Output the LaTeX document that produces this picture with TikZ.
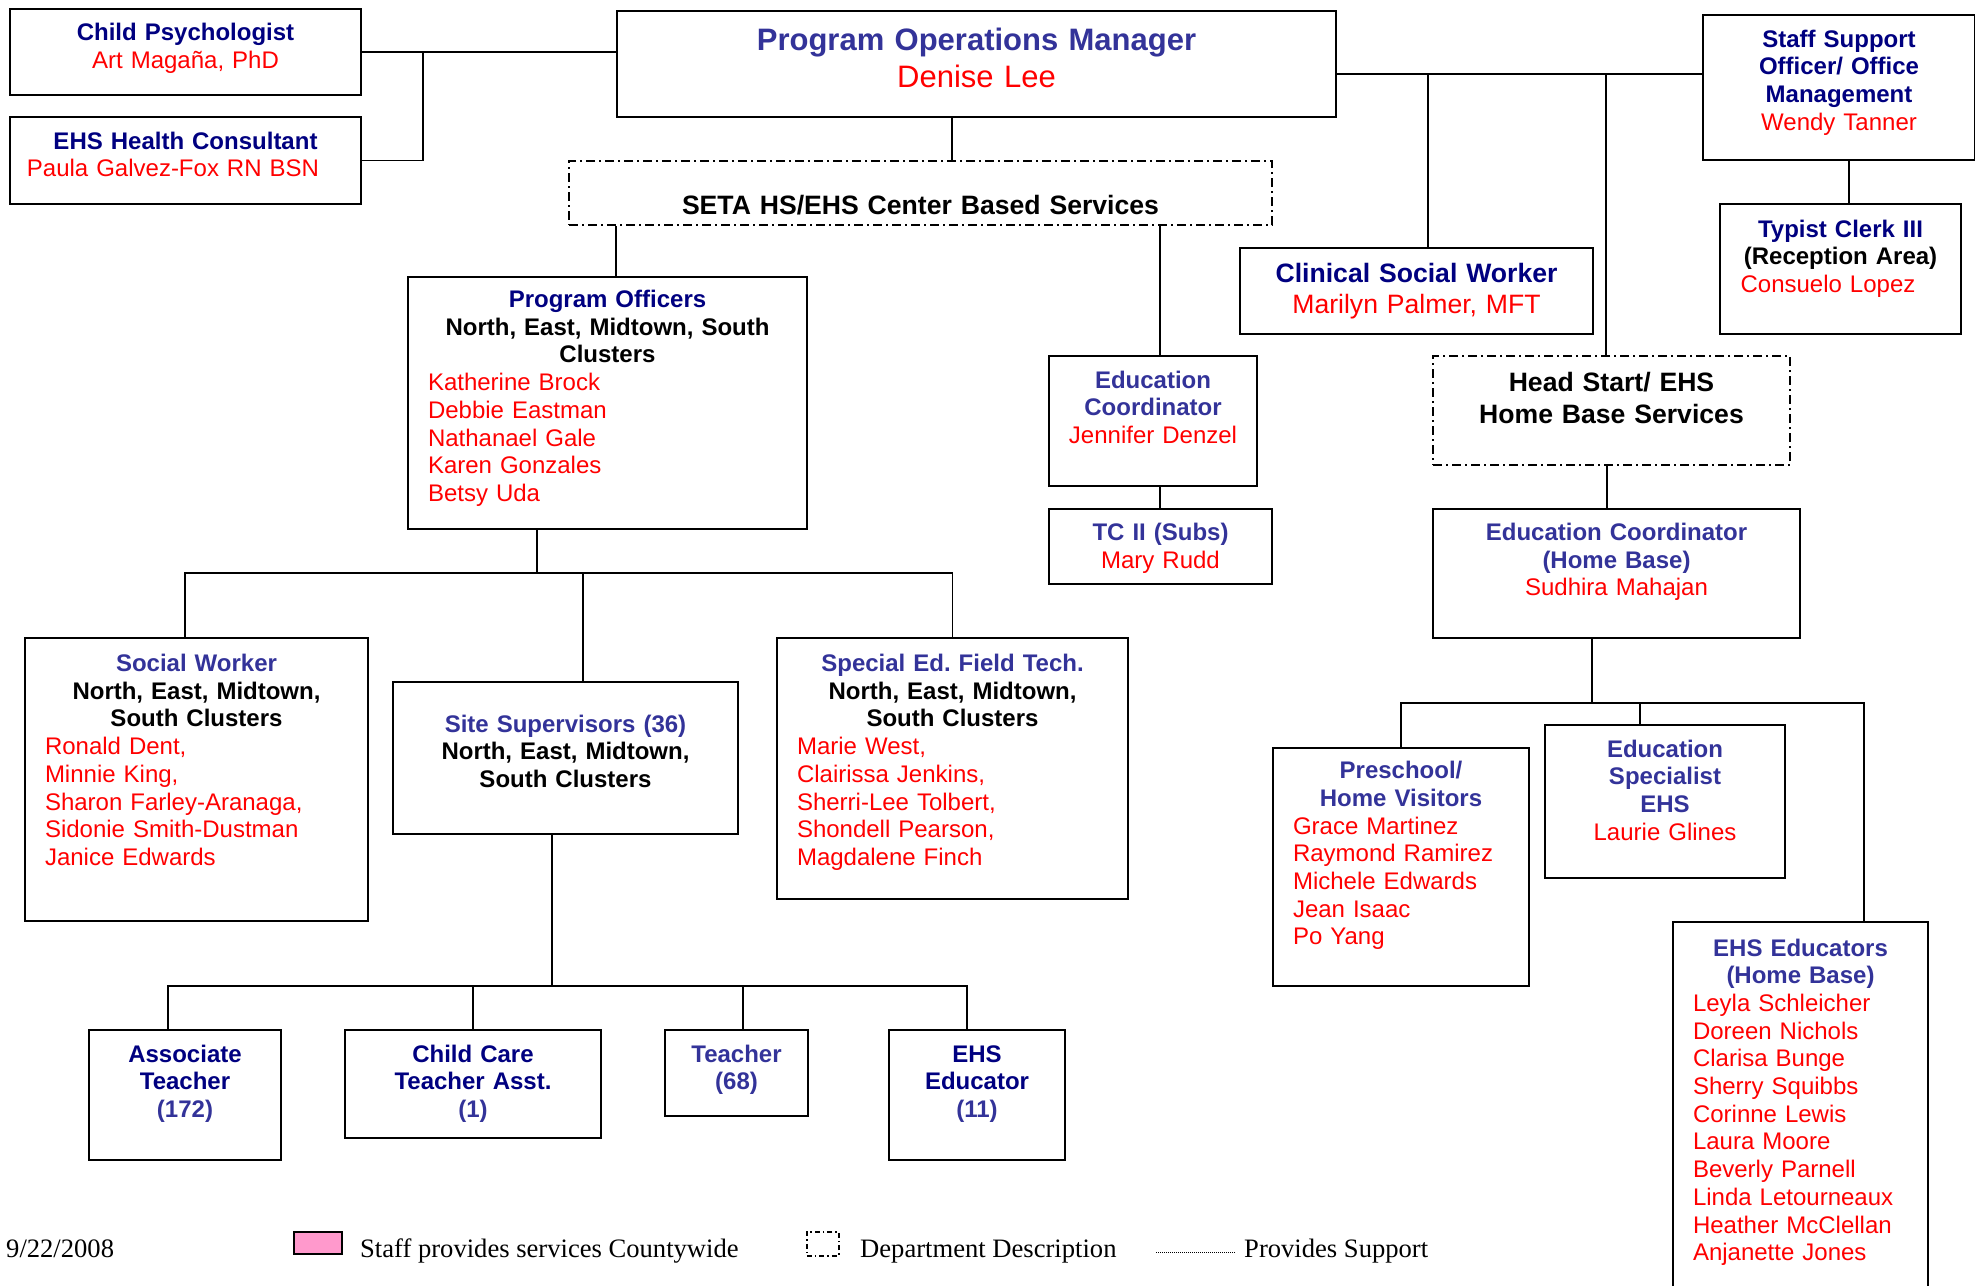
\documentclass[tikz,border=0pt]{standalone}
\usepackage{fontspec}
\setmainfont{Liberation Sans}
\newfontfamily\legendfont{Liberation Serif}
\usepackage{tikz}
\frenchspacing
\definecolor{dnavy}{HTML}{000080}
\definecolor{dblue}{HTML}{333399}
\definecolor{dred}{HTML}{FF0000}
\definecolor{cpink}{HTML}{FF99CC}
\newcommand\ttl[1]{{\bfseries\color{dnavy}#1}}
\newcommand\ttb[1]{{\bfseries\color{dblue}#1}}
\newcommand\clu[1]{{\bfseries #1}}
\newcommand\nm[1]{{\color{dred}#1}}
\newcommand\lnm[1]{\makebox[\linewidth][l]{\hspace*{20pt}\color{dred}#1}}
\tikzstyle{box}=[draw,line width=2pt,anchor=north west,inner sep=0pt,align=center,font=\fontsize{24}{27.7}\selectfont]
\tikzstyle{dept}=[box,dash pattern=on 9pt off 4pt on 2pt off 4pt]
\tikzstyle{conn}=[line width=1.6pt]
\tikzstyle{leg}=[anchor=base west,inner sep=0pt,font=\legendfont\fontsize{26.6}{30}\selectfont]

\begin{document}
\begin{tikzpicture}[x=1pt,y=-1pt]
	\useasboundingbox (0,0) rectangle (1975,1285);
	\node[box,text width=351pt,text height=31.5pt,text depth=54.5pt] (cp) at (9,8) {\ttl{Child Psychologist}\\\nm{Art Magaña, PhD}};
	\node[box,text width=351pt,text height=32pt,text depth=55pt] (hc) at (9,116) {\ttl{EHS Health Consultant}\\\nm{Paula Galvez-Fox RN BSN}\hspace*{25pt}\null};
	\node[box,text width=719pt,text height=39.5pt,text depth=66.5pt,font=\fontsize{31}{36.6}\selectfont] (pom) at (616,10) {\ttb{Program Operations Manager}\\\nm{Denise Lee}};
	\node[box,text width=272pt,text height=32pt,text depth=113pt] (ss) at (1702,14) {\ttl{Staff Support}\\\ttl{Officer/ Office}\\\ttl{Management}\\\nm{Wendy Tanner}};
	\node[box,text width=241pt,text height=33pt,text depth=97pt] (tc3) at (1719,203) {\ttl{Typist Clerk III}\\\clu{(Reception Area)}\\\nm{Consuelo Lopez}\hspace*{25pt}\null};
	\node[dept,text width=703pt,text height=53pt,text depth=11pt,font=\fontsize{26.6}{31.5}\selectfont] (seta) at (568,160) {\clu{SETA HS/EHS Center Based Services}};
	\node[box,text width=353pt,text height=34pt,text depth=52pt,font=\fontsize{26.6}{31.6}\selectfont] (csw) at (1239,247) {\ttl{Clinical Social Worker}\\\nm{Marilyn Palmer, MFT}};
	\node[box,text width=399pt,text height=30.5pt,text depth=221.5pt] (po) at (407,276) {\ttl{Program Officers}\\\clu{North, East, Midtown, South}\\\clu{Clusters}\\\lnm{Katherine Brock}\\\lnm{Debbie Eastman}\\\lnm{Nathanael Gale}\\\lnm{Karen Gonzales}\\\lnm{Betsy Uda}};
	\node[box,text width=208pt,text height=32pt,text depth=98pt] (ec) at (1048,355) {\ttb{Education}\\\ttb{Coordinator}\\\nm{Jennifer Denzel}};
	\node[box,text width=223pt,text height=31.5pt,text depth=43.5pt] (tc2) at (1048,508) {\ttb{TC II (Subs)}\\\nm{Mary Rudd}};
	\node[dept,text width=357pt,text height=35.7pt,text depth=73.3pt,font=\fontsize{26.6}{31.5}\selectfont] (hs) at (1432,355) {\clu{Head Start/ EHS}\\\clu{Home Base Services}};
	\node[box,text width=367pt,text height=31.5pt,text depth=97.5pt] (echb) at (1432,508) {\ttb{Education Coordinator}\\\ttb{(Home Base)}\\\nm{Sudhira Mahajan}};
	\node[box,text width=343pt,text height=33.5pt,text depth=249.5pt] (sw) at (24,637) {\ttb{Social Worker}\\\clu{North, East, Midtown,}\\\clu{South Clusters}\\\lnm{Ronald Dent,}\\\lnm{Minnie King,}\\\lnm{Sharon Farley-Aranaga,}\\\lnm{Sidonie Smith-Dustman}\\\lnm{Janice Edwards}};
	\node[box,text width=345pt,text height=50pt,text depth=102pt] (sup) at (392,681) {\ttb{Site Supervisors (36)}\\\clu{North, East, Midtown,}\\\clu{South Clusters}};
	\node[box,text width=351pt,text height=33.5pt,text depth=227.5pt] (sed) at (776,637) {\ttb{Special Ed. Field Tech.}\\\clu{North, East, Midtown,}\\\clu{South Clusters}\\\lnm{Marie West,}\\\lnm{Clairissa Jenkins,}\\\lnm{Sherri-Lee Tolbert,}\\\lnm{Shondell Pearson,}\\\lnm{Magdalene Finch}};
	\node[box,text width=256pt,text height=30.6pt,text depth=207.4pt] (ph) at (1272,747) {\ttb{Preschool/}\\\ttb{Home Visitors}\\\lnm{Grace Martinez}\\\lnm{Raymond Ramirez}\\\lnm{Michele Edwards}\\\lnm{Jean Isaac}\\\lnm{Po Yang}};
	\node[box,text width=240pt,text height=32pt,text depth=121pt] (es) at (1544,724) {\ttb{Education}\\\ttb{Specialist}\\\ttb{EHS}\\\nm{Laurie Glines}};
	\node[box,text width=255pt,text height=34pt,text depth=337pt] (ehse) at (1672,921) {\ttb{EHS Educators}\\\ttb{(Home Base)}\\\lnm{Leyla Schleicher}\\\lnm{Doreen Nichols}\\\lnm{Clarisa Bunge}\\\lnm{Sherry Squibbs}\\\lnm{Corinne Lewis}\\\lnm{Laura Moore}\\\lnm{Beverly Parnell}\\\lnm{Linda Letourneaux}\\\lnm{Heather McClellan}\\\lnm{Anjanette Jones}};
	\node[box,text width=192pt,text height=32pt,text depth=98pt] (ta) at (88,1029) {\ttl{Associate}\\\ttl{Teacher}\\\ttb{(172)}};
	\node[box,text width=256pt,text height=32pt,text depth=76pt] (cc) at (344,1029) {\ttl{Child Care}\\\ttl{Teacher Asst.}\\\ttb{(1)}};
	\node[box,text width=143pt,text height=32pt,text depth=54pt] (te) at (664,1029) {\ttb{Teacher}\\\ttb{(68)}};
	\node[box,text width=176pt,text height=32pt,text depth=98pt] (ehs) at (888,1029) {\ttl{EHS}\\\ttl{Educator}\\\ttb{(11)}};
	\coordinate (jl) at (423,52);
	\coordinate (tr) at (1428,74);
	\coordinate (th) at (1606,74);
	\coordinate (jp) at (537,573);
	\coordinate (js) at (552,986);
	\coordinate (jh) at (1592,703);
	\draw[conn] (cp.east) -- (cp.east -| pom.west);
	\draw[conn] (hc.east) -| (jl);
	\draw[conn] (pom.east |- tr) -- (ss.west |- tr);
	\draw[conn] (tr) -- (tr |- csw.north);
	\draw[conn] (th) -- (th |- hs.north);
	\draw[conn] ([xshift=10pt]ss.south) -- ([xshift=10pt]ss.south |- tc3.north);
	\draw[conn] (pom.south -| 952,0) -- (seta.north -| 952,0);
	\draw[conn] (seta.south -| 616,0) -- (po.north -| 616,0);
	\draw[conn] (seta.south -| 1160,0) -- (ec.north -| 1160,0);
	\draw[conn] (ec.south -| 1160,0) -- (tc2.north -| 1160,0);
	\draw[conn] (hs.south -| 1607,0) -- (echb.north -| 1607,0);
	\draw[conn] (po.south -| jp) -- (jp);
	\draw[conn] (sw.north -| 185,0) |- (jp -| sed.north) -- (sed.north);
	\draw[conn] (jp -| 583,0) -- (sup.north -| 583,0);
	\draw[conn] (sup.south -| js) -- (js);
	\draw[conn] (ta.north -| 168,0) |- (js -| 967,0) -- (ehs.north -| 967,0);
	\draw[conn] (js -| cc.north) -- (cc.north);
	\draw[conn] (js -| 743,0) -- (te.north -| 743,0);
	\draw[conn] (echb.south -| jh) -- (jh);
	\draw[conn] (ph.north) |- (jh -| 1864,0) -- (ehse.north -| 1864,0);
	\draw[conn] (jh -| 1640,0) -- (es.north -| 1640,0);
	\node[leg] (date) at (6,1257) {9/22/2008};
	\node[draw,line width=2pt,fill=cpink,minimum width=48pt,minimum height=22pt,inner sep=0pt,anchor=north west] (kpink) at (293,1231) {};
	\node[leg] (lpink) at (360,1257) {Staff provides services Countywide};
	\node[draw,line width=1.5pt,dash pattern=on 5pt off 3pt on 1.5pt off 3pt,minimum width=32pt,minimum height=24pt,inner sep=0pt,anchor=north west] (kdept) at (806,1231) {};
	\node[leg] (ldept) at (860,1257) {Department Description};
	\coordinate (ks1) at (1156,1252);
	\coordinate (ks2) at (1236,1252);
	\draw[line width=1pt,dash pattern=on 1pt off 1pt] (ks1) -- (ks2);
	\node[leg] (lsupp) at (1244,1257) {Provides Support};
\end{tikzpicture}
\end{document}
